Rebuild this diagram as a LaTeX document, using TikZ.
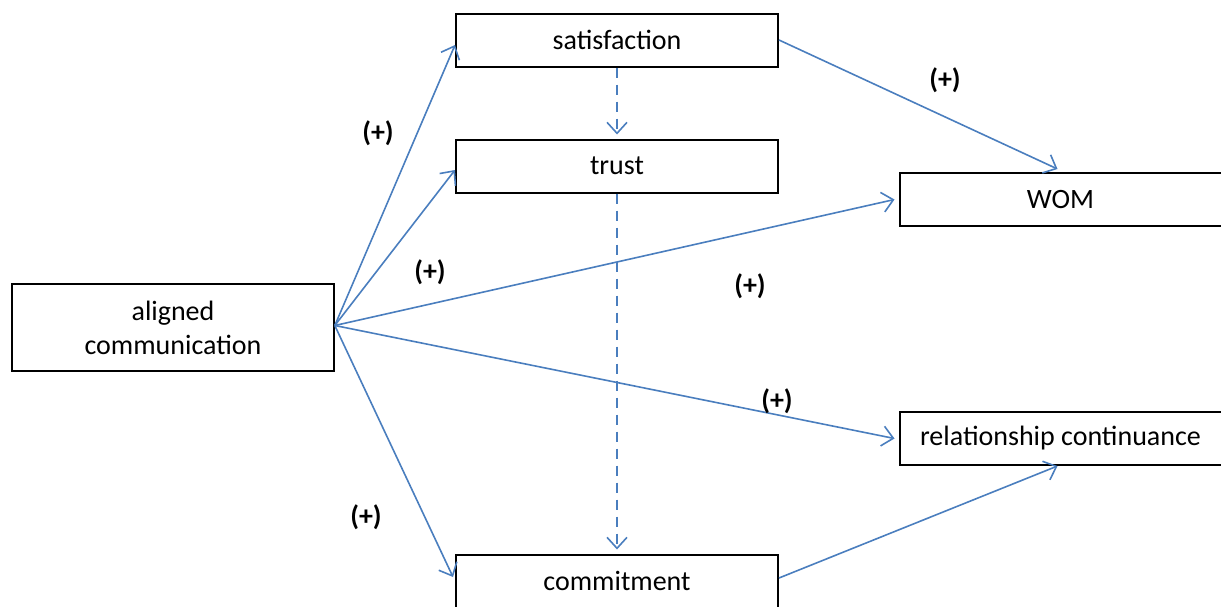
\documentclass[tikz,border=0pt]{standalone}
\usepackage{fontspec}
\setmainfont{Carlito}
\usetikzlibrary{arrows.meta}
\definecolor{lineblue}{RGB}{74,126,190}
\tikzset{
  box/.style={draw=black, line width=2pt, minimum width=322pt, minimum height=53pt, inner sep=0pt, align=center, font=\fontsize{28}{34}\selectfont},
  conn/.style={draw=lineblue, line width=1.6pt, -{Straight Barb[length=11pt,width=20pt,line width=1.6pt]}},
  dconn/.style={conn, dash pattern=on 10pt off 7pt},
  plus/.style={font=\fontsize{28}{34}\selectfont\bfseries, inner sep=0pt}
}
\begin{document}
\begin{tikzpicture}[x=1pt,y=-1pt]
\useasboundingbox (0,0) rectangle (1221,606);
\begin{scope}
\clip (0,0) rectangle (1221,606);
\node[box] (sat) at (617,40) {satisfaction};
\node[box] (trust) at (617,166) {trust};
\node[box, minimum height=87pt, line width=1.6pt] (ac) at (173,327.5) {aligned\\communication};
\node[box] (wom) at (1060.5,199.5) {WOM};
\node[box] (rc) at (1060.5,438.5) {relationship continuance};
\node[box] (com) at (617,581) {commitment};
\end{scope}
\draw[conn] ([yshift=2pt]ac.east) -- ([yshift=-5pt]sat.west);
\draw[conn] ([yshift=2pt]ac.east) -- ([yshift=-4pt]trust.west);
\draw[conn] ([yshift=2pt]ac.east) -- ([xshift=-4pt]wom.west);
\draw[conn] ([yshift=2pt]ac.east) -- ([xshift=-4pt]rc.west);
\draw[conn] ([yshift=2pt]ac.east) -- ([yshift=4pt,xshift=-2pt]com.west);
\draw[conn] (sat.east) -- ([xshift=-3pt,yshift=3pt]wom.north);
\draw[conn] ([yshift=3pt]com.east) -- ([xshift=-3pt]rc.south);
\draw[dconn] (sat.south) -- ([yshift=4pt]trust.north);
\draw[dconn] (trust.south) -- ([yshift=4pt]com.north);
\node[plus] (p1) at (378,133) {(+)};
\node[plus] (p2) at (430,272) {(+)};
\node[plus] (p3) at (750,286) {(+)};
\node[plus] (p4) at (945,80) {(+)};
\node[plus] (p5) at (777,401) {(+)};
\node[plus] (p6) at (366,517) {(+)};
\end{tikzpicture}
\end{document}
